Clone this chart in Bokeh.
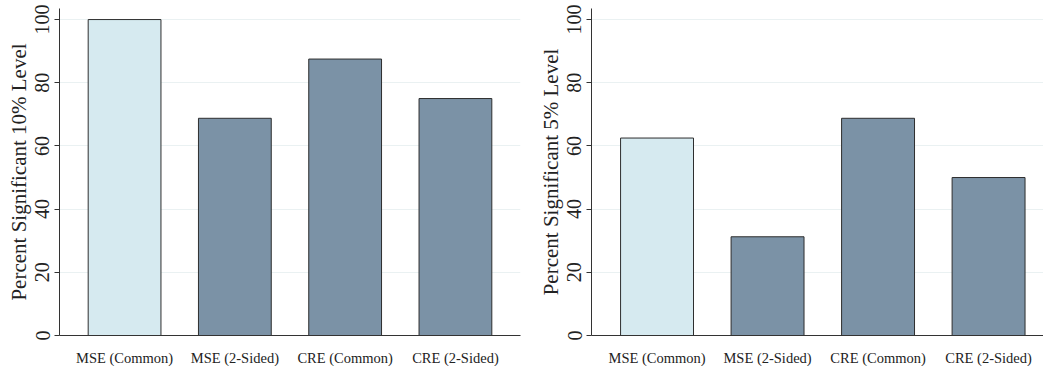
from bokeh.plotting import figure
from bokeh.layouts import row
from bokeh.models import Range1d, FixedTicker, ColumnDataSource
from bokeh.embed import file_html
from bokeh.resources import INLINE

categories = ["MSE (Common)", "MSE (2-Sided)", "CRE (Common)", "CRE (2-Sided)"]
sig10 = [100.0, 68.75, 87.5, 75.0]
sig5 = [62.5, 31.25, 68.75, 50.0]
bar_colors = ["#d6eaf0", "#7b92a6", "#7b92a6", "#7b92a6"]
y_ticks = [0, 20, 40, 60, 80, 100]

FONT = "Liberation Serif"


def make_panel(values, ylabel, x_start, x_end, frame_w, border_left, border_right):
    xs = list(range(len(categories)))
    src = ColumnDataSource(dict(x=xs, top=values, color=bar_colors))
    p = figure(output_backend="svg", toolbar_location=None,
               frame_width=frame_w, frame_height=327,
               x_range=Range1d(x_start, x_end), y_range=Range1d(0, 103.5),
               min_border_left=border_left, min_border_right=border_right,
               min_border_top=8, min_border_bottom=0)
    p.outline_line_color = None
    p.background_fill_color = "white"
    p.vbar(x="x", top="top", bottom=0, width=0.66, source=src,
           fill_color="color", line_color="#2e2e2e", line_width=1)
    # axes
    p.xaxis.ticker = FixedTicker(ticks=xs)
    p.xaxis.major_label_overrides = {i: c for i, c in enumerate(categories)}
    p.xaxis.major_tick_line_color = None
    p.xaxis.minor_tick_line_color = None
    p.xaxis.axis_line_color = "#333333"
    p.xaxis.major_label_text_font = FONT
    p.xaxis.major_label_text_font_size = "14.5px"
    p.xaxis.major_label_text_color = "#222222"
    p.xaxis.major_label_standoff = 8
    p.yaxis.ticker = FixedTicker(ticks=y_ticks)
    p.yaxis.major_label_orientation = "vertical"
    p.yaxis.major_tick_out = 5
    p.yaxis.major_tick_in = 0
    p.yaxis.major_tick_line_color = "#333333"
    p.yaxis.minor_tick_line_color = None
    p.yaxis.axis_line_color = "#333333"
    p.yaxis.major_label_text_font = FONT
    p.yaxis.major_label_text_font_size = "20px"
    p.yaxis.major_label_text_color = "#222222"
    p.yaxis.major_label_standoff = 5
    p.yaxis.axis_label = ylabel
    p.yaxis.axis_label_text_font = FONT
    p.yaxis.axis_label_text_font_size = "21px"
    p.yaxis.axis_label_text_font_style = "normal"
    p.yaxis.axis_label_text_color = "#222222"
    p.yaxis.axis_label_standoff = 2
    p.xgrid.grid_line_color = None
    p.ygrid.ticker = FixedTicker(ticks=y_ticks)
    p.ygrid.grid_line_color = "#eaf1f2"
    p.ygrid.grid_line_width = 1
    return p


left = make_panel(sig10, "Percent Significant 10% Level", -0.59, 3.59, 461, 59, 12)
right = make_panel(sig5, "Percent Significant 5% Level", -0.593, 3.497, 452, 59, 0)

layout = row(left, right, spacing=0)
open("out.html", "w").write(file_html(layout, INLINE))
